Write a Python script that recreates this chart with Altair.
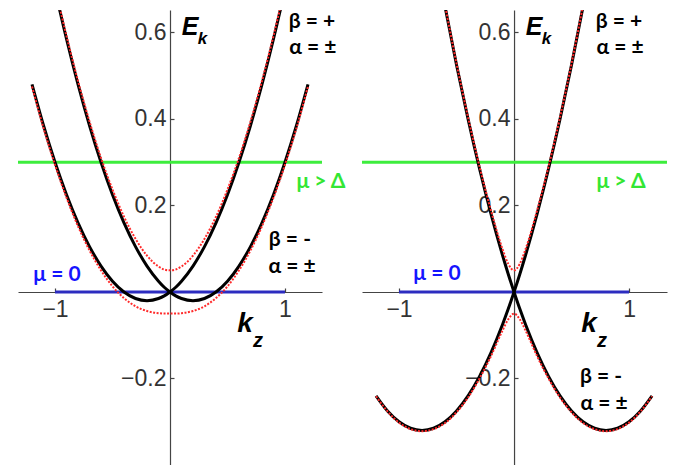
import altair as alt
import pandas as pd

# momentum grid (k_z)
K = [-1.2, -1.1, -1.0, -0.9, -0.8, -0.7, -0.6, -0.5, -0.4, -0.3, -0.2, -0.1, -0.05, 0.0,
     0.05, 0.1, 0.2, 0.3, 0.4, 0.5, 0.6, 0.7, 0.8, 0.9, 1.0, 1.1, 1.2]

# left panel: black bands
L_BLACK_A = [0.48, 0.385, 0.3, 0.225, 0.16, 0.105, 0.06, 0.025, 0.0, -0.015, -0.02, -0.015, -0.009, 0.0,
             0.011, 0.025, 0.06, 0.105, 0.16, 0.225, 0.3, 0.385, 0.48, 0.585, 0.7, 0.825, 0.96]
L_BLACK_B = [0.96, 0.825, 0.7, 0.585, 0.48, 0.385, 0.3, 0.225, 0.16, 0.105, 0.06, 0.025, 0.011, 0.0,
             -0.009, -0.015, -0.02, -0.015, 0.0, 0.025, 0.06, 0.105, 0.16, 0.225, 0.3, 0.385, 0.48]
# left panel: red dotted (gapped) bands
L_RED_UP = [0.965, 0.831, 0.706, 0.592, 0.488, 0.394, 0.31, 0.237, 0.174, 0.123, 0.084, 0.059, 0.052, 0.05,
            0.052, 0.059, 0.084, 0.123, 0.174, 0.237, 0.31, 0.394, 0.488, 0.592, 0.706, 0.831, 0.965]
L_RED_LO = [0.475, 0.379, 0.294, 0.218, 0.152, 0.096, 0.05, 0.013, -0.014, -0.033, -0.044, -0.049, -0.05, -0.05,
            -0.05, -0.049, -0.044, -0.033, -0.014, 0.013, 0.05, 0.096, 0.152, 0.218, 0.294, 0.379, 0.475]

# right panel: black bands
R_BLACK_A = [-0.24, -0.275, -0.3, -0.315, -0.32, -0.315, -0.3, -0.275, -0.24, -0.195, -0.14, -0.075, -0.039, 0.0,
             0.041, 0.085, 0.18, 0.285, 0.4, 0.525, 0.66, 0.805, 0.96, 1.125, 1.3, 1.485, 1.68]
R_BLACK_B = [1.68, 1.485, 1.3, 1.125, 0.96, 0.805, 0.66, 0.525, 0.4, 0.285, 0.18, 0.085, 0.041, 0.0,
             -0.039, -0.075, -0.14, -0.195, -0.24, -0.275, -0.3, -0.315, -0.32, -0.315, -0.3, -0.275, -0.24]
# right panel: red dotted (gapped) bands
R_RED_UP = [1.681, 1.486, 1.302, 1.127, 0.962, 0.807, 0.663, 0.528, 0.404, 0.29, 0.188, 0.099, 0.065, 0.05,
            0.065, 0.099, 0.188, 0.29, 0.404, 0.528, 0.663, 0.807, 0.962, 1.127, 1.302, 1.486, 1.681]
R_RED_LO = [-0.241, -0.276, -0.302, -0.317, -0.322, -0.317, -0.303, -0.278, -0.244, -0.2, -0.148, -0.089, -0.063, -0.05,
            -0.063, -0.089, -0.148, -0.2, -0.244, -0.278, -0.303, -0.317, -0.322, -0.317, -0.302, -0.276, -0.241]

MU_HIGH = 0.3          # green chemical potential line
MU_ZERO_K = [-1, 1]    # blue mu = 0 segment
MU_ZERO_E = [0, 0]

X_TICKS = [-1, 1]
Y_TICKS = [-0.2, 0.2, 0.4, 0.6]

Y_DOM = [-0.4, 0.652]
H = 455


def panel(black_a, black_b, red_up, red_lo, xdom, width, labels):
    xs = alt.Scale(domain=xdom, nice=False, zero=False)
    ys = alt.Scale(domain=Y_DOM, nice=False, zero=False)
    x_px0 = width * (0 - xdom[0]) / (xdom[1] - xdom[0])       # from left edge
    y_px0 = H * (0 - Y_DOM[0]) / (Y_DOM[1] - Y_DOM[0])        # from bottom edge
    lab = dict(grid=False, title=None, domainColor="#444", domainWidth=1.2, ticks=False,
               labelFont="Liberation Sans", labelFontSize=23, labelColor="#333")
    tk = dict(grid=False, title=None, domain=False, labels=False, tickColor="#444",
              tickSize=4, tickWidth=1.2)
    xax = alt.Axis(values=X_TICKS, format="d", orient="bottom", offset=-y_px0, labelPadding=7, **lab)
    yax = alt.Axis(values=Y_TICKS, format=".1f", orient="left", offset=-x_px0, labelPadding=4, **lab)
    xtk = alt.Axis(values=X_TICKS, orient="top", offset=-(H - y_px0), **tk)
    ytk = alt.Axis(values=Y_TICKS, orient="right", offset=-(width - x_px0), **tk)

    def X(f, ax=None):
        return alt.X(f, type="quantitative", scale=xs, axis=ax)

    def Y(f, ax=None):
        return alt.Y(f, type="quantitative", scale=ys, axis=ax)

    black = pd.DataFrame({"k": K * 2, "E": black_a + black_b,
                          "c": ["a"] * len(K) + ["b"] * len(K)})
    red = pd.DataFrame({"k": K * 2, "E": red_up + red_lo,
                        "c": ["u"] * len(K) + ["l"] * len(K)})
    green = pd.DataFrame({"E": [MU_HIGH]})
    blue = pd.DataFrame({"k": MU_ZERO_K, "E": MU_ZERO_E})

    layers = [
        alt.Chart(blue).mark_line(color="#2c2cc0", strokeWidth=3)
        .encode(x=X("k", xax), y=Y("E", yax)),
        alt.Chart(blue).mark_line(opacity=0)
        .encode(x=X("k", xtk), y=Y("E", ytk)),
        alt.Chart(green).mark_rule(color="#3ded3d", strokeWidth=3).encode(y=Y("E")),
        alt.Chart(black).mark_line(color="black", strokeWidth=3, clip=True, interpolate="monotone")
        .encode(x=X("k"), y=Y("E"), detail="c:N"),
        alt.Chart(red).mark_line(color="#ff2a2a", strokeWidth=2, strokeDash=[2, 1.5], clip=True,
                                 interpolate="monotone")
        .encode(x=X("k"), y=Y("E"), detail="c:N"),
    ]
    for (k, e, t, color, size, font, style) in labels:
        layers.append(
            alt.Chart(pd.DataFrame({"k": [k], "E": [e], "t": [t]}))
            .mark_text(color=color, fontSize=size, font=font, fontWeight="bold", fontStyle=style,
                       align="center", baseline="middle")
            .encode(x=X("k"), y=Y("E"), text="t:N")
        )
    return (alt.layer(*layers)
            .resolve_axis(x="independent", y="independent")
            .properties(width=width, height=H))


SANS = "Liberation Sans"
CAL = "Lato"
GREEN = "#33e633"
BLUE = "#1515ff"

left_labels = [
    (0.174, 0.613, "E", "black", 25, SANS, "italic"),
    (0.282, 0.585, "k", "black", 17, SANS, "italic"),
    (0.652, -0.074, "k", "black", 28, SANS, "italic"),
    (0.765, -0.113, "z", "black", 20, SANS, "italic"),
    (1.235, 0.624, "β = +", "black", 21, CAL, "normal"),
    (1.243, 0.564, "α = ±", "black", 21, CAL, "normal"),
    (1.043, 0.120, "β = -", "black", 21, CAL, "normal"),
    (1.061, 0.058, "α = ±", "black", 21, CAL, "normal"),
    (1.313, 0.254, "μ > Δ", GREEN, 21, CAL, "normal"),
    (-0.983, 0.040, "μ = 0", BLUE, 21, CAL, "normal"),
]
right_labels = [
    (0.174, 0.613, "E", "black", 25, SANS, "italic"),
    (0.282, 0.585, "k", "black", 17, SANS, "italic"),
    (0.652, -0.074, "k", "black", 28, SANS, "italic"),
    (0.765, -0.113, "z", "black", 20, SANS, "italic"),
    (0.913, 0.624, "β = +", "black", 21, CAL, "normal"),
    (0.922, 0.564, "α = ±", "black", 21, CAL, "normal"),
    (0.757, -0.197, "β = -", "black", 21, CAL, "normal"),
    (0.783, -0.259, "α = ±", "black", 21, CAL, "normal"),
    (0.930, 0.254, "μ > Δ", GREEN, 21, CAL, "normal"),
    (-0.670, 0.042, "μ = 0", BLUE, 21, CAL, "normal"),
]

left = panel(L_BLACK_A, L_BLACK_B, L_RED_UP, L_RED_LO, [-1.322, 1.322], 304, left_labels)
right = panel(R_BLACK_A, R_BLACK_B, R_RED_UP, R_RED_LO, [-1.322, 1.33], 305, right_labels)

chart = (
    alt.hconcat(left, right, spacing=40, bounds="flush")
    .properties(padding={"left": 8, "top": 2, "right": 0, "bottom": 0})
    .configure_view(stroke=None)
)

chart.save("out.html", embed_options={"renderer": "svg", "actions": False})
